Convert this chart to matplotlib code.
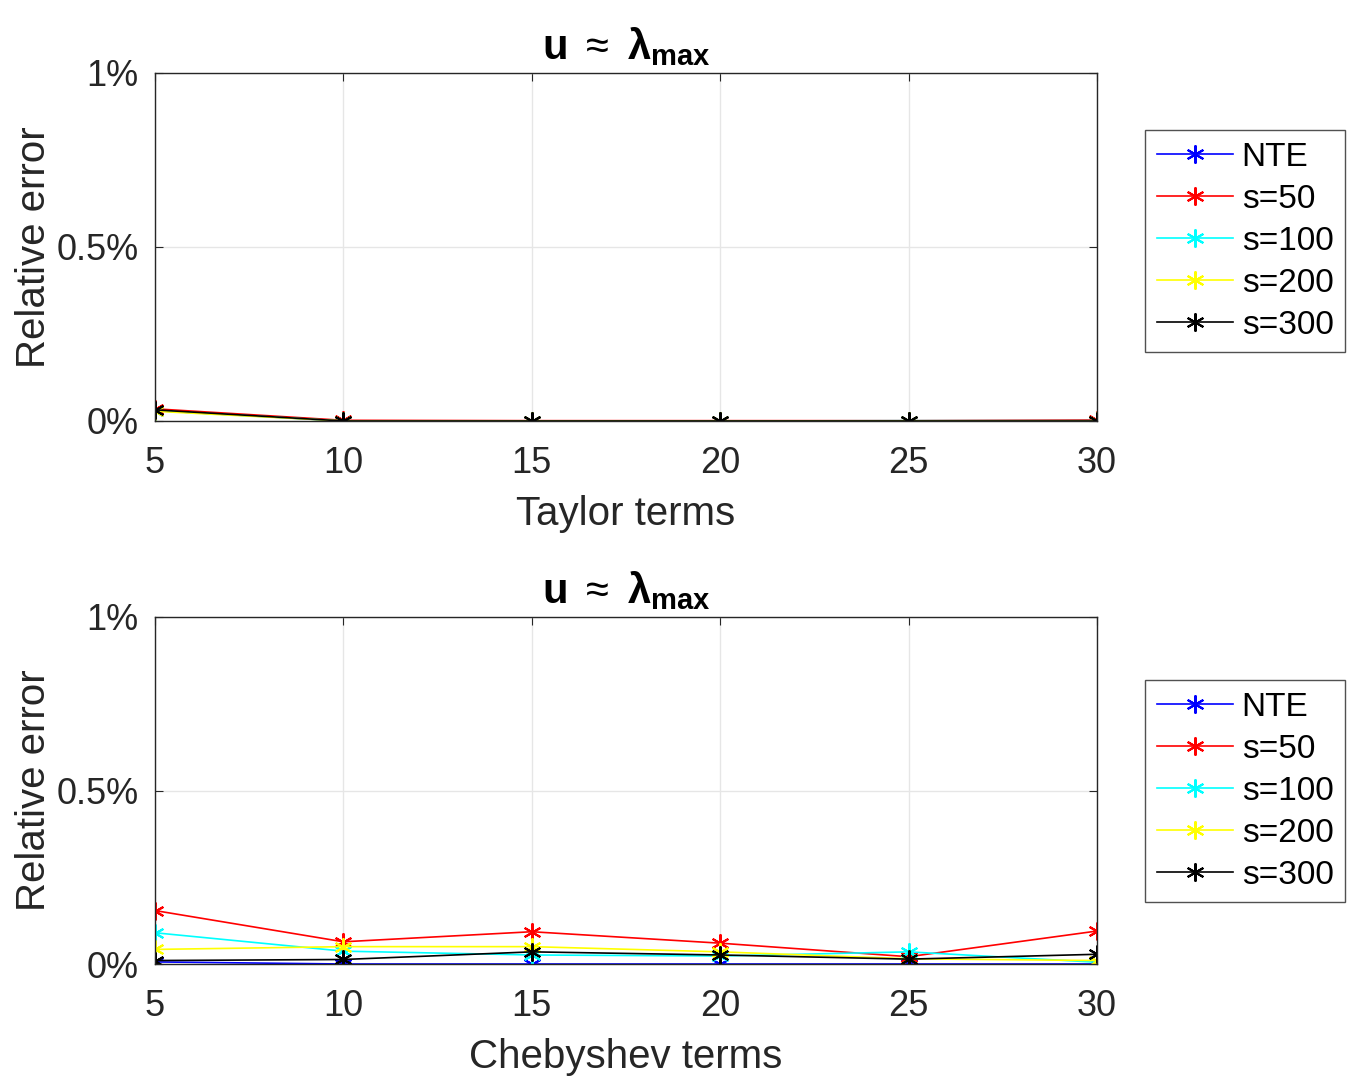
import matplotlib
matplotlib.use('Agg')
import matplotlib.pyplot as plt
from matplotlib.ticker import FuncFormatter

plt.rcParams['font.family'] = ['Liberation Sans', 'DejaVu Sans']
plt.rcParams['mathtext.fontset'] = 'custom'
plt.rcParams['mathtext.rm'] = 'Liberation Sans'
plt.rcParams['mathtext.bf'] = 'Liberation Sans:bold'
plt.rcParams['mathtext.it'] = 'Liberation Sans:italic'
plt.rcParams['mathtext.bfit'] = 'Liberation Sans:bold:italic'

terms = [5, 10, 15, 20, 25, 30]
labels = ['NTE', 's=50', 's=100', 's=200', 's=300']
colors = ['#0000ff', '#ff0000', '#00ffff', '#ffff00', '#000000']

# relative error in percent
taylor_nte = [0.030, 0.000, 0.000, 0.000, 0.000, 0.000]
taylor_s50 = [0.035, 0.002, 0.001, 0.001, 0.001, 0.003]
taylor_s100 = [0.030, 0.000, 0.000, 0.000, 0.001, 0.001]
taylor_s200 = [0.028, 0.000, 0.000, 0.000, 0.000, 0.000]
taylor_s300 = [0.032, 0.000, 0.000, 0.000, 0.000, 0.000]

cheb_nte = [0.006, 0.000, 0.000, 0.000, 0.000, 0.000]
cheb_s50 = [0.154, 0.064, 0.093, 0.060, 0.021, 0.095]
cheb_s100 = [0.090, 0.037, 0.026, 0.023, 0.035, 0.005]
cheb_s200 = [0.042, 0.050, 0.050, 0.035, 0.015, 0.010]
cheb_s300 = [0.010, 0.013, 0.035, 0.026, 0.014, 0.028]

taylor = [taylor_nte, taylor_s50, taylor_s100, taylor_s200, taylor_s300]
cheb = [cheb_nte, cheb_s50, cheb_s100, cheb_s200, cheb_s300]

fig = plt.figure(figsize=(13.51, 10.84), dpi=100)
ax1 = fig.add_axes([155/1351, 1 - 421/1084, 942/1351, 348/1084])
ax2 = fig.add_axes([155/1351, 1 - 964/1084, 942/1351, 347/1084])

pct = FuncFormatter(lambda v, p: '%g%%' % v)
title = r'$\mathbf{u}\ \approx\ \boldsymbol{\lambda}_{\mathbf{max}}$'

for ax, data, xlabel, legtop in [(ax1, taylor, 'Taylor terms', 130),
                                 (ax2, cheb, 'Chebyshev terms', 680)]:
    for series, c, lab in zip(data, colors, labels):
        ax.plot(terms, series, color=c, lw=1.2, marker=(6, 2, 0), ms=13,
                mew=1.5, label=lab)
    ax.set_xlim(5, 30)
    ax.set_ylim(0, 1)
    ax.set_xticks(terms)
    ax.set_yticks([0, 0.5, 1])
    ax.yaxis.set_major_formatter(pct)
    ax.grid(True, color='#e6e6e6', lw=1)
    ax.tick_params(direction='in', top=True, right=True, labelsize=26,
                   colors='#262626', length=6, pad=12)
    ax.tick_params(axis='x', pad=18)
    for sp in ax.spines.values():
        sp.set_color('#262626')
        sp.set_linewidth(1)
    ax.set_xlabel(xlabel, fontsize=29, color='#262626', labelpad=10)
    ax.set_ylabel('Relative error', fontsize=29, color='#262626', labelpad=2)
    ax.set_title(title, fontsize=30, pad=10)
    leg = ax.legend(loc='upper left',
                    bbox_to_anchor=(1145/1351, 1 - legtop/1084),
                    bbox_transform=fig.transFigure, fontsize=24,
                    frameon=True, fancybox=False, edgecolor='#262626',
                    handlelength=2.3, labelspacing=0.33, borderpad=0.35,
                    handletextpad=0.25, borderaxespad=0)
    leg.get_frame().set_linewidth(1)

fig.savefig('out.png', dpi=100)
